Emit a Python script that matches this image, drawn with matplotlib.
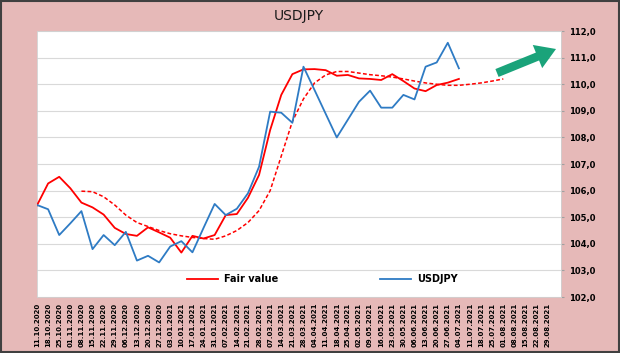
import pandas as pd
from matplotlib import pyplot as plt
from matplotlib.patches import Rectangle, FancyArrow
from matplotlib.ticker import FuncFormatter

# weekly categories on the x axis
dates = pd.date_range('2020-10-11', periods=47, freq='7D')
date_labels = [d.strftime('%d.%m.%Y') for d in dates]

# USDJPY weekly close (11.10.2020 - 04.07.2021)
usdjpy = [105.46, 105.30, 104.33, 104.77, 105.23, 103.80, 104.33, 103.95, 104.45, 103.37,
          103.55, 103.30, 103.90, 104.10, 103.68, 104.60, 105.50, 105.08, 105.32, 105.90,
          106.90, 108.97, 108.93, 108.55, 110.66, 109.78, 108.89, 108.00, 108.67, 109.34,
          109.76, 109.12, 109.12, 109.60, 109.43, 110.66, 110.82, 111.56, 110.60]

# fair value model
fair_value = [105.45, 106.27, 106.52, 106.09, 105.55, 105.37, 105.10, 104.60, 104.37, 104.30,
              104.62, 104.43, 104.23, 103.67, 104.30, 104.20, 104.33, 105.08, 105.12, 105.73,
              106.59, 108.28, 109.60, 110.38, 110.56, 110.57, 110.53, 110.32, 110.35, 110.22,
              110.20, 110.16, 110.38, 110.12, 109.84, 109.74, 109.97, 110.06, 110.20]

# smoothed fair value (dashed), starts at 08.11.2020, runs to 01.08.2021
fair_smooth_start = 4
fair_smooth = [105.98, 105.96, 105.77, 105.46, 105.08, 104.80, 104.65, 104.50, 104.38, 104.30,
               104.24, 104.20, 104.17, 104.30, 104.50, 104.80, 105.25, 106.00, 107.30, 108.60,
               109.45, 110.05, 110.35, 110.48, 110.48, 110.42, 110.36, 110.32, 110.27, 110.20,
               110.12, 110.05, 110.00, 109.96, 109.96, 110.00, 110.05, 110.12, 110.20]

bg = '#E6B9B8'

fig = plt.figure(figsize=(6.2, 3.53), dpi=100, facecolor=bg)
ax = fig.add_axes([0.0597, 0.1586, 0.8452, 0.7534])
ax.set_facecolor('white')

x_usd = list(range(len(usdjpy)))
x_fair = list(range(len(fair_value)))
x_smooth = list(range(fair_smooth_start, fair_smooth_start + len(fair_smooth)))

ax.plot(x_smooth, fair_smooth, '--', color='#FF0000', lw=1.1, dashes=(2.5, 1.5), zorder=3)
ax.plot(x_fair, fair_value, color='#FF0000', lw=1.3, label='Fair value', zorder=4)
ax.plot(x_usd, usdjpy, color='#2E7BC4', lw=1.3, label='USDJPY', zorder=5)

ax.set_xlim(0, 47.2)
ax.set_ylim(102, 112)
ax.set_yticks(range(102, 113))
ax.yaxis.set_major_formatter(FuncFormatter(lambda v, p: f'{v:.1f}'.replace('.', ',')))
ax.yaxis.tick_right()
ax.grid(axis='y', color='#D9D9D9', lw=0.8)
ax.set_axisbelow(True)
ax.tick_params(axis='y', length=2, color='#A0A0A0', labelsize=6, pad=4)
for lab in ax.get_yticklabels():
    lab.set_fontweight('bold')

ax.set_xticks(range(len(date_labels)))
ax.set_xticklabels(date_labels, rotation=90, fontsize=5, fontweight='bold')
ax.tick_params(axis='x', length=0, pad=4)

for s in ax.spines.values():
    s.set_color('#D0D0D0')
    s.set_linewidth(0.6)

ax.set_title('USDJPY', fontsize=10, color='#1a1a1a', pad=8, x=0.5)

leg = ax.legend(loc='center', bbox_to_anchor=(0.544, 0.068), ncol=2, frameon=False,
                handlelength=3.2, columnspacing=10.5, handletextpad=0.6,
                prop={'size': 7, 'weight': 'bold'})

# green arrow in the upper right (drawn in inches so the head keeps its shape)
fig.patches.append(FancyArrow(4.97, 2.80, 0.59, 0.24, transform=fig.dpi_scale_trans,
                              width=0.085, head_width=0.25, head_length=0.2,
                              length_includes_head=True, color='#1AA37A', lw=0, zorder=6))

fig.patches.append(Rectangle((0.002, 0.003), 0.996, 0.994, transform=fig.transFigure,
                             fill=False, edgecolor='#404040', lw=1.5))

fig.savefig('out.png', dpi=100, facecolor=bg)
